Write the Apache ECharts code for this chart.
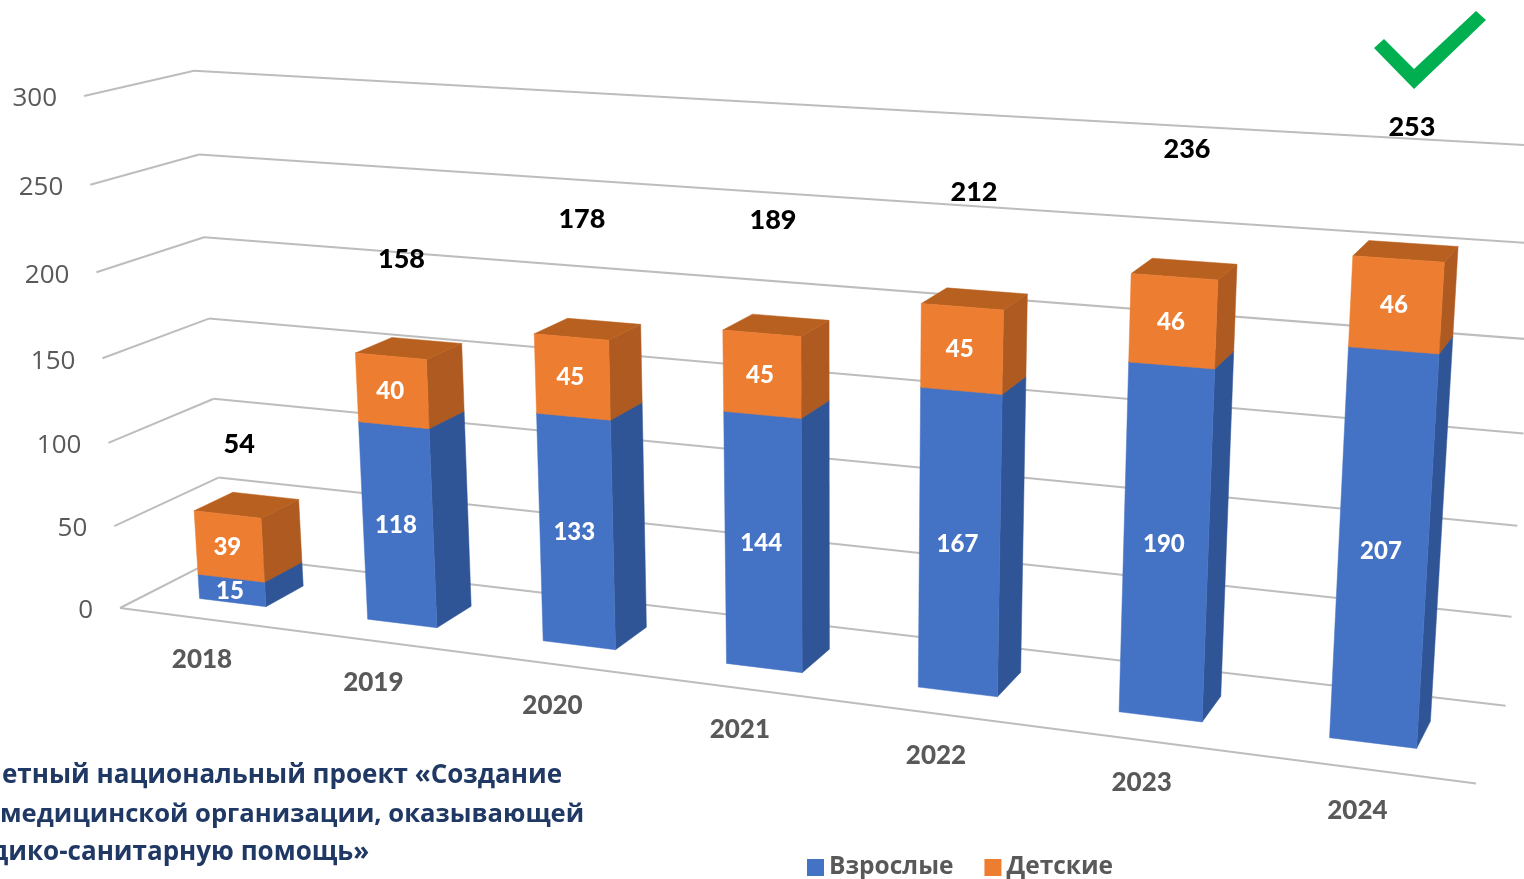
<!DOCTYPE html>
<html>

<head>
    <meta charset="utf-8">
    <title>ECharts</title>
    <style>
        html, body { margin: 0; padding: 0; background: #fff; overflow: hidden; }
        #chart { width: 1524px; height: 879px; }
    </style>
</head>

<body>
    <div id="chart"></div>
    <script src="https://cdn.jsdelivr.net/npm/echarts@6/dist/echarts.min.js"></script>
    <script>
        var categories = ['2018', '2019', '2020', '2021', '2022', '2023', '2024'];
        var adults = [15, 118, 133, 144, 167, 190, 207];
        var children = [39, 40, 45, 45, 45, 46, 46];
        var totals = [54, 158, 178, 189, 212, 236, 253];
        var valueTicks = [0, 50, 100, 150, 200, 250, 300];

        var FONT_DIGITS = 'Lato, "Open Sans", sans-serif';
        var FONT_TEXT = '"Open Sans", sans-serif';

        // camera: vanishing points of the three chart directions
        var origin = [120, 608];
        var vanX = [-7628, -366], wX = -0.1487;
        var vanY = [840, 10854], wY = -0.0476;
        var vanZ = [1971, -337], wZ = 0.059;

        // X, Y, Z are 0..1 along category axis, value axis and depth
        function project(X, Y, Z) {
            var w = 1 + wX * X + wY * Y + wZ * Z;
            return [
                (origin[0] + wX * X * vanX[0] + wY * Y * vanY[0] + wZ * Z * vanZ[0]) / w,
                (origin[1] + wX * X * vanX[1] + wY * Y * vanY[1] + wZ * Z * vanZ[1]) / w
            ];
        }

        var BAR_FRONT = 0.284, BAR_BACK = 0.663, BAR_WIDTH = 0.4;

        // reads the flat grid scales and turns them into X, Y for project()
        function flat(params, api, cat, val) {
            var cs = params.coordSys;
            var p = api.coord([cat, val]);
            return [(p[0] - cs.x) / cs.width, (cs.y + cs.height - p[1]) / cs.height];
        }

        function poly(points, color) {
            return {
                type: 'polygon',
                shape: { points: points },
                style: { fill: color, stroke: color, lineWidth: 0.5 }
            };
        }

        function barRenderer(front, side, top) {
            return function (params, api) {
                var cat = api.value(0);
                var lo = flat(params, api, cat, api.value(1));
                var hi = flat(params, api, cat, api.value(2));
                var half = api.size([1, 0])[0] / params.coordSys.width * BAR_WIDTH / 2;
                var x0 = lo[0] - half, x1 = lo[0] + half;
                var faces = [
                    poly([project(x1, lo[1], BAR_FRONT), project(x1, lo[1], BAR_BACK), project(x1, hi[1], BAR_BACK), project(x1, hi[1], BAR_FRONT)], side),
                    poly([project(x0, hi[1], BAR_FRONT), project(x1, hi[1], BAR_FRONT), project(x1, hi[1], BAR_BACK), project(x0, hi[1], BAR_BACK)], top),
                    poly([project(x0, lo[1], BAR_FRONT), project(x1, lo[1], BAR_FRONT), project(x1, hi[1], BAR_FRONT), project(x0, hi[1], BAR_FRONT)], front)
                ];
                var c = project(lo[0], (lo[1] + hi[1]) / 2, BAR_FRONT);
                faces.push({
                    type: 'text',
                    style: { text: String(api.value(3)), x: c[0] - 2, y: c[1] + 0.5, fill: '#fff', font: '900 24px ' + FONT_DIGITS, textAlign: 'center', textVerticalAlign: 'middle' }
                });
                return { type: 'group', children: faces };
            };
        }

        function line(a, b) {
            return {
                type: 'line',
                shape: { x1: a[0], y1: a[1], x2: b[0], y2: b[1] },
                style: { stroke: '#BDBDBD', lineWidth: 2 }
            };
        }

        function gridRenderer(params, api) {
            var val = api.value(1);
            var Y = flat(params, api, 0, val)[1];
            var kids = [
                line(project(0, Y, 0), project(0, Y, 1)),
                line(project(0, Y, 1), project(1, Y, 1))
            ];
            if (val === 0) {
                // front floor edge runs a little wider than the camera gives
                kids.push(line(project(0, 0, 0), project(1.003, 0, -0.06)));
            }
            var p = project(0, Y, 0);
            kids.push({
                type: 'text',
                style: { text: String(val), x: p[0] - 27, y: p[1] + 3, fill: '#595959', font: '26px ' + FONT_TEXT, textAlign: 'right', textVerticalAlign: 'middle' }
            });
            return { type: 'group', children: kids };
        }

        function categoryRenderer(params, api) {
            var cat = api.value(0);
            var f = flat(params, api, cat, 0);
            var p = project(f[0], 0, 0);
            return {
                type: 'text',
                style: { text: categories[cat], x: p[0] - 1 - 3 * f[0], y: p[1] + 41 + 5.5 * f[0], fill: '#595959', font: '900 26px ' + FONT_DIGITS, textAlign: 'center', textVerticalAlign: 'middle' }
            };
        }

        // the total labels float above the bars, each lifted by hand in value units
        var TOTAL_LIFT = [40, 54, 64, 60, 59, 64, 64];

        function totalRenderer(params, api) {
            var cat = api.value(0), val = api.value(1);
            var f = flat(params, api, cat, val + TOTAL_LIFT[cat]);
            var p = project(f[0], f[1], 0.426);
            return {
                type: 'text',
                style: { text: String(val), x: p[0] + 1, y: p[1] + 3, fill: '#000', font: '900 27px ' + FONT_DIGITS, textAlign: 'center', textVerticalAlign: 'middle' }
            };
        }

        var adultData = [], childData = [], totalData = [], catData = [], tickData = [];
        categories.forEach(function (name, i) {
            adultData.push([i, 0, adults[i], adults[i]]);
            childData.push([i, adults[i], adults[i] + children[i], children[i]]);
            totalData.push([i, totals[i]]);
            catData.push([i, 0]);
        });
        valueTicks.forEach(function (v) {
            tickData.push([0, v]);
        });

        var myChart = echarts.init(document.getElementById('chart'));
        var option = {
            animation: false,
            // the flat grid only supplies the scales, project() bends it into the picture
            grid: { left: 0, top: 0, width: 1000, height: 600 },
            xAxis: { type: 'category', data: categories, show: false },
            yAxis: { type: 'value', min: 0, max: 300, interval: 50, show: false },
            legend: {
                data: ['Взрослые', 'Детские'],
                left: 802,
                top: 850,
                itemWidth: 17,
                itemHeight: 17,
                itemGap: 31,
                icon: 'rect',
                textStyle: { fontFamily: 'Open Sans', fontWeight: 'bold', fontSize: 24.5, color: '#595959' }
            },
            series: [
                { type: 'custom', name: 'grid', data: tickData, renderItem: gridRenderer, clip: false, encode: { x: 0, y: 1 }, silent: true },
                { type: 'custom', name: 'Взрослые', data: adultData, renderItem: barRenderer('#4472C4', '#2F5597', '#2F5597'), clip: false, encode: { x: 0, y: [1, 2] }, itemStyle: { color: '#4472C4' } },
                { type: 'custom', name: 'Детские', data: childData, renderItem: barRenderer('#ED7D31', '#AE5A21', '#B8601F'), clip: false, encode: { x: 0, y: [1, 2] }, itemStyle: { color: '#ED7D31' } },
                { type: 'custom', name: 'total', data: totalData, renderItem: totalRenderer, clip: false, encode: { x: 0, y: 1 } },
                { type: 'custom', name: 'cats', data: catData, renderItem: categoryRenderer, clip: false, encode: { x: 0, y: 1 } }
            ],
            graphic: [
                { type: 'polygon', shape: { points: [[1374, 48], [1384, 39], [1414, 69], [1476, 11], [1486, 20], [1414, 89]] }, style: { fill: '#00B050' } },
                { type: 'text', x: 2, y: 776, style: { text: 'етный национальный проект «Создание', fill: '#1F3864', font: 'bold 26px ' + FONT_TEXT, textVerticalAlign: 'middle' } },
                { type: 'text', x: 0, y: 815, style: { text: 'медицинской организации, оказывающей', fill: '#1F3864', font: 'bold 25.6px ' + FONT_TEXT, textVerticalAlign: 'middle' } },
                { type: 'text', x: -9, y: 853, style: { text: 'дико-санитарную помощь»', fill: '#1F3864', font: 'bold 26px ' + FONT_TEXT, textVerticalAlign: 'middle' } }
            ]
        };
        myChart.setOption(option);
    </script>
</body>

</html>
